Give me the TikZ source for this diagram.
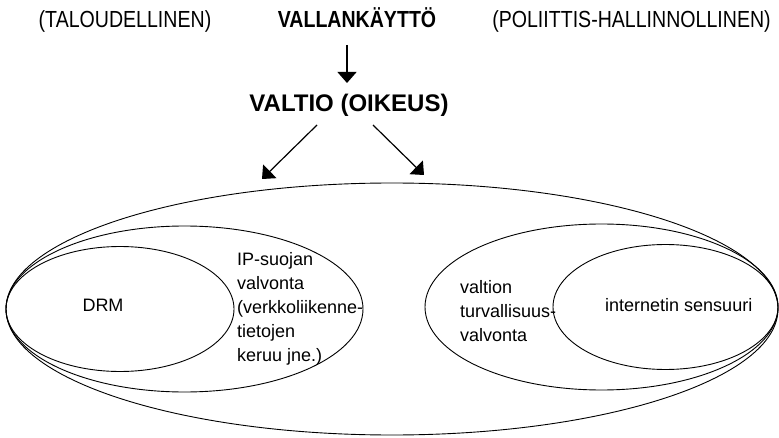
\documentclass[tikz,border=0pt]{standalone}
\usepackage{fontspec}
\setmainfont{Liberation Sans}
\newfontfamily\narrowfont[FakeStretch=0.84]{Liberation Sans}
\usetikzlibrary{arrows.meta}
\begin{document}
\begin{tikzpicture}[x=1pt,y=1pt,
  ring/.style={line width=0.9pt},
  arr/.style={line width=1.2pt,-{Triangle[length=11pt,width=19pt]}},
  toplabel/.style={font=\narrowfont\fontsize{23.3}{28}\selectfont,inner sep=0pt,anchor=base},
  midlabel/.style={font=\bfseries\fontsize{24}{28}\selectfont,inner sep=0pt,anchor=base},
  inlabel/.style={font=\fontsize{18}{24}\selectfont,inner sep=0pt,align=left}]
\useasboundingbox (0,0) rectangle (779,437);
% top row
\node[toplabel] (talous) at (125,409) {(TALOUDELLINEN)};
\node[toplabel,font=\narrowfont\bfseries\fontsize{23.3}{28}\selectfont] (vk) at (357,409) {VALLANKÄYTTÖ};
\node[toplabel] (polit) at (631.5,409) {(POLIITTIS-HALLINNOLLINEN)};
% state
\node[midlabel] (valtio) at (349,325) {VALTIO (OIKEUS)};
% ellipses
\draw[ring] (392,128) ellipse [x radius=386, y radius=126];
\draw[ring] (120,128) ellipse [x radius=114, y radius=62.5];
\draw[ring] (184.5,128) ellipse [x radius=178.5, y radius=83];
\draw[ring] (601.5,130) ellipse [x radius=176.5, y radius=83];
\draw[ring] (665.5,130) ellipse [x radius=112.5, y radius=62.5];
% inner labels
\node[inlabel] (drm) at (103,132) {DRM};
\node[inlabel,anchor=west] (ip) at (237,128) {IP-suojan\\valvonta\\(verkkoliikenne-\\tietojen\\keruu jne.)};
\node[inlabel,anchor=west] (turva) at (460,126) {valtion\\turvallisuus-\\valvonta};
\node[inlabel,anchor=west] (sens) at (605,132) {internetin sensuuri};
% arrows
\coordinate (vkend) at (347,392);
\coordinate (vtip) at (347,354);
\coordinate (lstart) at (317,312);
\coordinate (ltip) at (262,258);
\coordinate (rstart) at (373,312);
\coordinate (rtip) at (424,262);
\draw[arr] (vkend) -- (vtip);
\draw[arr] (lstart) -- (ltip);
\draw[arr] (rstart) -- (rtip);
\end{tikzpicture}
\end{document}
